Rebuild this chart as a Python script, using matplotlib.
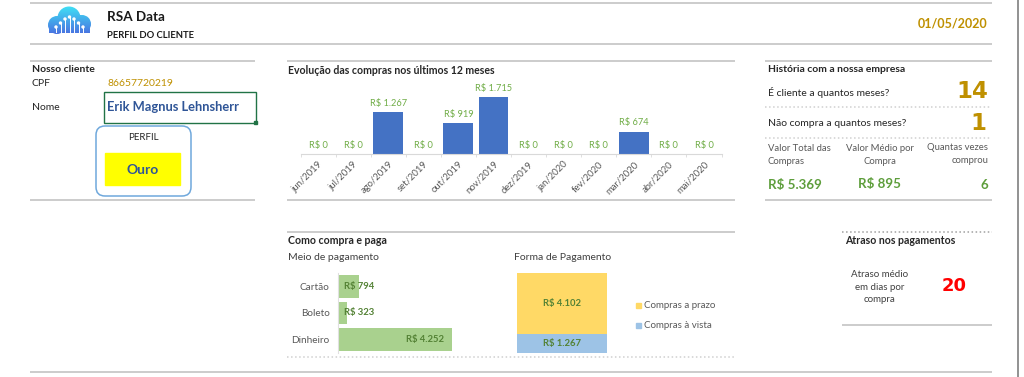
import matplotlib.pyplot as plt
from matplotlib.colors import LinearSegmentedColormap
from matplotlib.patches import Rectangle, FancyBboxPatch, Circle, PathPatch
from matplotlib.path import Path
import numpy as np

# ---------- Data ----------
MONTHS = ["jun/2019", "jul/2019", "ago/2019", "set/2019", "out/2019", "nov/2019",
          "dez/2019", "jan/2020", "fev/2020", "mar/2020", "abr/2020", "mai/2020"]
MONTH_VALUES = [0, 0, 1267, 0, 919, 1715, 0, 0, 0, 674, 0, 0]

PAY_METHODS = ["Cartão", "Boleto", "Dinheiro"]
PAY_VALUES = [794, 323, 4252]

FORM_LABELS = ["Compras à vista", "Compras a prazo"]
FORM_VALUES = [1267, 4102]

CLIENT_CPF = "86657720219"
CLIENT_NAME = "Erik Magnus Lehnsherr"
CLIENT_PROFILE = "Ouro"
REPORT_DATE = "01/05/2020"
MONTHS_AS_CLIENT = 14
MONTHS_NO_PURCHASE = 1
TOTAL_VALUE = 5369
AVG_VALUE = 895
N_PURCHASES = 6
AVG_DELAY_DAYS = 20

# ---------- Style ----------
W, H = 1024, 377
FONT = "Lato"
GOLD = "#BF9000"
GREEN_LBL = "#70AD47"
GREEN_DARK = "#548235"
GREEN_VAL = "#5E9E3C"
BLUE_BAR = "#4472C4"
LINE = "#BFBFBF"
GRAY_TXT = "#595959"

plt.rcParams["font.family"] = [FONT, "DejaVu Sans"]


def brl(v):
    return "R$ " + f"{v:,.0f}".replace(",", ".")


def px_axes(fig, x0, y0, x1, y1):
    return fig.add_axes([x0 / W, 1 - y1 / H, (x1 - x0) / W, (y1 - y0) / H])


fig = plt.figure(figsize=(W / 100, H / 100), dpi=100)
ov = fig.add_axes([0, 0, 1, 1])
ov.set_xlim(0, W)
ov.set_ylim(H, 0)
ov.axis("off")


def hline(x0, x1, y, ls="-", color=LINE, lw=1.1):
    ov.plot([x0, x1], [y, y], color=color, lw=lw, ls=ls, solid_capstyle="butt")


def txt(x, y, s, size=7, **kw):
    kw.setdefault("va", "center")
    kw.setdefault("color", "#262626")
    ov.text(x, y, s, fontsize=size, **kw)


# ---------- Header ----------
hline(30, 992, 3)
hline(30, 992, 44)
ov.plot([1018, 1018], [0, H], color="#7F7F7F", lw=1.2)

# cloud logo (gradient clipped to cloud shape)
parts = [Path.circle((57, 25), 9), Path.circle((69, 18), 11.5), Path.circle((82, 24), 9),
         Path([(49, 24), (90, 24), (90, 33), (49, 33), (49, 24)],
              [Path.MOVETO, Path.LINETO, Path.LINETO, Path.LINETO, Path.CLOSEPOLY])]
cloud = Path.make_compound_path(*parts)
grad = np.linspace(0, 1, 50).reshape(-1, 1)
img = ov.imshow(grad, extent=(45, 92, 35, 6),
                cmap=LinearSegmentedColormap.from_list("cl", ["#3FE0F5", "#4A6FE0"]),
                aspect="auto", zorder=2)
clip = PathPatch(cloud, transform=ov.transData, facecolor="none", edgecolor="none")
ov.add_patch(clip)
img.set_clip_path(clip)
for lx, top in zip([56, 60.5, 65, 69.5, 74, 78.5, 83], [27, 23, 19, 17, 19, 23, 27]):
    ov.plot([lx, lx], [top, 32], color="white", lw=0.7, zorder=3)
    ov.add_patch(Circle((lx, top), 1.0, color="white", zorder=3))

txt(107, 17, "RSA Data", size=9.7, fontweight="bold", color="#1A1A1A")
txt(107, 35, "PERFIL DO CLIENTE", size=6.8, fontweight="bold", color="#1A1A1A")
txt(988, 24, REPORT_DATE, size=9, color=GOLD, ha="right", fontweight="bold")

# ---------- Nosso cliente ----------
hline(30, 255, 61)
txt(32, 70, "Nosso cliente", size=7.5, fontweight="bold")
txt(32, 84, "CPF", size=7.5)
txt(107, 84, CLIENT_CPF, size=7.5, color=GOLD)
txt(32, 108, "Nome", size=7.5)
ov.add_patch(Rectangle((104, 92), 152, 31, fill=False, edgecolor="#217346", lw=1.0))
ov.add_patch(Rectangle((254, 121), 3, 3, color="#217346"))
txt(107, 107, CLIENT_NAME, size=9.3, fontweight="bold", color="#2F5597")
ov.add_patch(FancyBboxPatch((96, 126), 95, 70, boxstyle="round,pad=0,rounding_size=9",
                            fill=False, edgecolor="#6FA8DC", lw=1.1))
txt(143, 138, "PERFIL", size=7, ha="center")
ov.add_patch(Rectangle((105, 153), 75, 32, color="#FFFF00"))
txt(143, 170, CLIENT_PROFILE, size=10, fontweight="bold", color="#2F5597", ha="center")
hline(30, 255, 200)

# ---------- Evolução das compras ----------
hline(287, 735, 61)
txt(288, 70, "Evolução das compras nos últimos 12 meses", size=7.6, fontweight="bold")
ax1 = px_axes(fig, 300.5, 75, 721.5, 154)
x = np.arange(len(MONTHS))
ax1.bar(x, MONTH_VALUES, width=0.85, color=BLUE_BAR)
ax1.set_xlim(-0.5, len(MONTHS) - 0.5)
ax1.set_ylim(0, 1715 * 79 / 57)
for xi, v in zip(x, MONTH_VALUES):
    ax1.annotate(brl(v), (xi, v), xytext=(0, 3), textcoords="offset points",
                 ha="center", va="bottom", fontsize=6.7, color=GREEN_LBL)
ax1.set_xticks(x)
ax1.set_xticklabels(MONTHS, rotation=45, ha="right", rotation_mode="anchor",
                    fontsize=6.8, color=GRAY_TXT)
ax1.set_xticks(np.arange(-0.5, len(MONTHS)), minor=True)
ax1.tick_params(axis="x", which="major", length=0, pad=4)
ax1.tick_params(axis="x", which="minor", length=2, color="#D9D9D9")
ax1.set_yticks([])
for s in ["top", "right", "left"]:
    ax1.spines[s].set_visible(False)
ax1.spines["bottom"].set_color("#D9D9D9")
ax1.patch.set_alpha(0)
hline(287, 735, 200)

# ---------- História ----------
hline(765, 992, 61)
txt(768, 70, "História com a nossa empresa", size=7.5, fontweight="bold")
txt(768, 92, "É cliente a quantos meses?", size=7.5)
txt(988, 92, str(MONTHS_AS_CLIENT), size=16.5, ha="right", color=GOLD,
    fontweight="bold", family="DejaVu Sans")
hline(765, 990, 107, ls=":", color="#D0D0D0")
txt(768, 123, "Não compra a quantos meses?", size=7.5)
txt(986, 123, str(MONTHS_NO_PURCHASE), size=16.5, ha="right", color=GOLD,
    fontweight="bold", family="DejaVu Sans")
hline(765, 990, 138, ls=":", color="#D0D0D0")
txt(768, 155, "Valor Total das\nCompras", size=6.8, color=GRAY_TXT, linespacing=1.5)
txt(880, 155, "Valor Médio por\nCompra", size=6.8, color=GRAY_TXT, ha="center",
    multialignment="center", linespacing=1.5)
txt(988, 154, "Quantas vezes\ncomprou", size=6.8, color=GRAY_TXT, ha="right",
    multialignment="right", linespacing=1.5)
txt(768, 185, brl(TOTAL_VALUE), size=9.6, fontweight="bold", color=GREEN_VAL)
txt(879, 184, brl(AVG_VALUE), size=9.6, fontweight="bold", color=GREEN_VAL, ha="center")
txt(988, 185, str(N_PURCHASES), size=9.6, fontweight="bold", color=GREEN_VAL, ha="right")
hline(765, 992, 200)

# ---------- Como compra e paga ----------
hline(287, 735, 232)
txt(288, 240, "Como compra e paga", size=7.6, fontweight="bold")
txt(288, 258, "Meio de pagamento", size=7.5, color="#404040")
txt(514, 258, "Forma de Pagamento", size=7.5, color="#404040")

ax2 = px_axes(fig, 338, 273, 470, 353)
y = np.arange(len(PAY_METHODS))
ax2.barh(y, PAY_VALUES, height=0.84, color="#A9D18E")
ax2.set_ylim(len(PAY_METHODS) - 0.5, -0.5)
ax2.set_xlim(0, 4252 * 132 / 114)
ax2.set_yticks(y)
ax2.set_yticklabels(PAY_METHODS, fontsize=7.2, color=GRAY_TXT)
ax2.tick_params(axis="y", length=0, pad=6)
ax2.set_xticks([])
for s in ["top", "right", "bottom"]:
    ax2.spines[s].set_visible(False)
ax2.spines["left"].set_color("#E0E0E0")
ax2.patch.set_alpha(0)
vmax = max(PAY_VALUES)
for yi, v in zip(y, PAY_VALUES):
    if v == vmax:
        ax2.annotate(brl(v), (v, yi), xytext=(-6, 0), textcoords="offset points",
                     ha="right", va="center", fontsize=6.8, fontweight="bold", color=GREEN_DARK)
    else:
        ax2.annotate(brl(v), (0, yi), xytext=(4, 0), textcoords="offset points",
                     ha="left", va="center", fontsize=6.8, fontweight="bold", color=GREEN_DARK)

ax3 = px_axes(fig, 517, 273, 607, 353)
form_colors = ["#9DC3E6", "#FFD966"]
bottom = 0
for lbl, v, c in zip(FORM_LABELS, FORM_VALUES, form_colors):
    ax3.bar(0, v, bottom=bottom, width=1.0, color=c)
    ax3.text(0, bottom + v / 2, brl(v), ha="center", va="center", fontsize=6.8,
             fontweight="bold", color=GREEN_DARK)
    bottom += v
ax3.set_xlim(-0.5, 0.5)
ax3.set_ylim(0, sum(FORM_VALUES))
ax3.axis("off")

# legend
for lbl, c, ly in [(FORM_LABELS[1], form_colors[1], 305), (FORM_LABELS[0], form_colors[0], 325)]:
    ov.add_patch(Rectangle((636, ly - 2.5), 5, 5, color=c))
    txt(644, ly, lbl, size=7, color=GRAY_TXT)

hline(287, 735, 357, ls=":", color="#D0D0D0")
hline(30, 992, 372)

# ---------- Atraso ----------
hline(842, 992, 232, ls=":", color="#A0A0A0")
txt(845, 240, "Atraso nos pagamentos", size=7.6, fontweight="bold")
txt(880, 287, "Atraso médio\nem dias por\ncompra", size=7, ha="center",
    multialignment="center", linespacing=1.45, color="#404040")
txt(954, 286, str(AVG_DELAY_DAYS), size=13, color="#FF0000", ha="center",
    fontweight="bold", family="DejaVu Sans")
hline(842, 992, 325)

fig.savefig("out.png", dpi=100)
